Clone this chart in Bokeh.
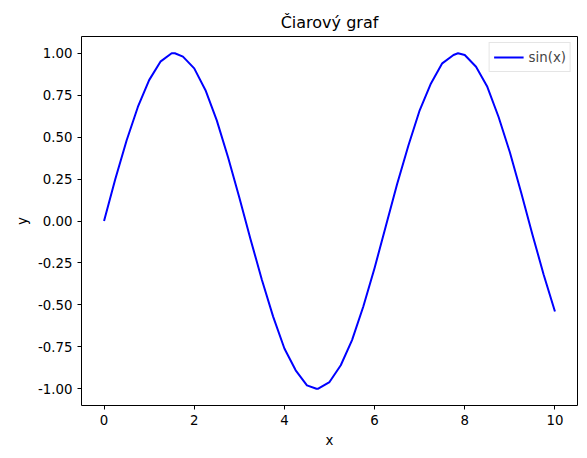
from bokeh.plotting import figure
from bokeh.models import Range1d, FixedTicker, PrintfTickFormatter
from bokeh.embed import file_html
from bokeh.resources import INLINE

# values
x_vals = [0, 0.25, 0.5, 0.75, 1, 1.25, 1.5, 1.57, 1.75, 2, 2.25, 2.5, 2.75, 3, 3.25, 3.5,
          3.75, 4, 4.25, 4.5, 4.71, 4.75, 5, 5.25, 5.5, 5.75, 6, 6.25, 6.5, 6.75, 7,
          7.25, 7.5, 7.75, 7.85, 8, 8.25, 8.5, 8.75, 9, 9.25, 9.5, 9.75, 10]
y_vals = [0, 0.25, 0.48, 0.68, 0.84, 0.95, 1.0, 1.0, 0.98, 0.91, 0.78, 0.6, 0.38, 0.14, -0.11, -0.35,
          -0.57, -0.76, -0.89, -0.98, -1.0, -1.0, -0.96, -0.86, -0.71, -0.51, -0.28, -0.03, 0.22, 0.45, 0.66,
          0.82, 0.94, 0.99, 1.0, 0.99, 0.92, 0.8, 0.62, 0.41, 0.17, -0.08, -0.32, -0.54]
x_ticks = [0, 2, 4, 6, 8, 10]
y_ticks = [-1.0, -0.75, -0.5, -0.25, 0.0, 0.25, 0.5, 0.75, 1.0]

p = figure(width=579, height=450, output_backend="svg", toolbar_location=None,
           title="Čiarový graf", x_axis_label="x", y_axis_label="y",
           min_border_left=81, min_border_right=2, min_border_top=36, min_border_bottom=45)
p.x_range = Range1d(-0.5, 10.5)
p.y_range = Range1d(-1.1, 1.1)
p.line(x_vals, y_vals, color="blue", line_width=2, legend_label="sin(x)", line_join="round")

p.grid.visible = False
p.outline_line_color = "black"
p.title.align = "center"
p.title.text_color = "black"
p.title.text_font = "DejaVu Sans"
p.title.text_font_size = "12pt"
p.title.text_font_style = "normal"
p.xaxis.ticker = FixedTicker(ticks=x_ticks)
p.yaxis.ticker = FixedTicker(ticks=y_ticks)
p.yaxis.formatter = PrintfTickFormatter(format="%.2f")
for ax in p.axis:
    ax.minor_tick_line_color = None
    ax.major_tick_in = 0
    ax.major_tick_out = 4
    ax.axis_line_color = None
    ax.major_label_text_font = "DejaVu Sans"
    ax.major_label_text_font_size = "10pt"
    ax.major_label_text_color = "black"
    ax.axis_label_text_font = "DejaVu Sans"
    ax.axis_label_text_font_size = "10pt"
    ax.axis_label_text_font_style = "normal"
    ax.axis_label_text_color = "black"
p.legend.location = "top_right"
p.legend.label_text_font = "DejaVu Sans"
p.legend.label_text_font_size = "10pt"
p.legend.border_line_color = "#cccccc"
p.legend.padding = 4
p.legend.margin = 6
p.legend.glyph_width = 30

open("out.html", "w").write(file_html(p, INLINE))
